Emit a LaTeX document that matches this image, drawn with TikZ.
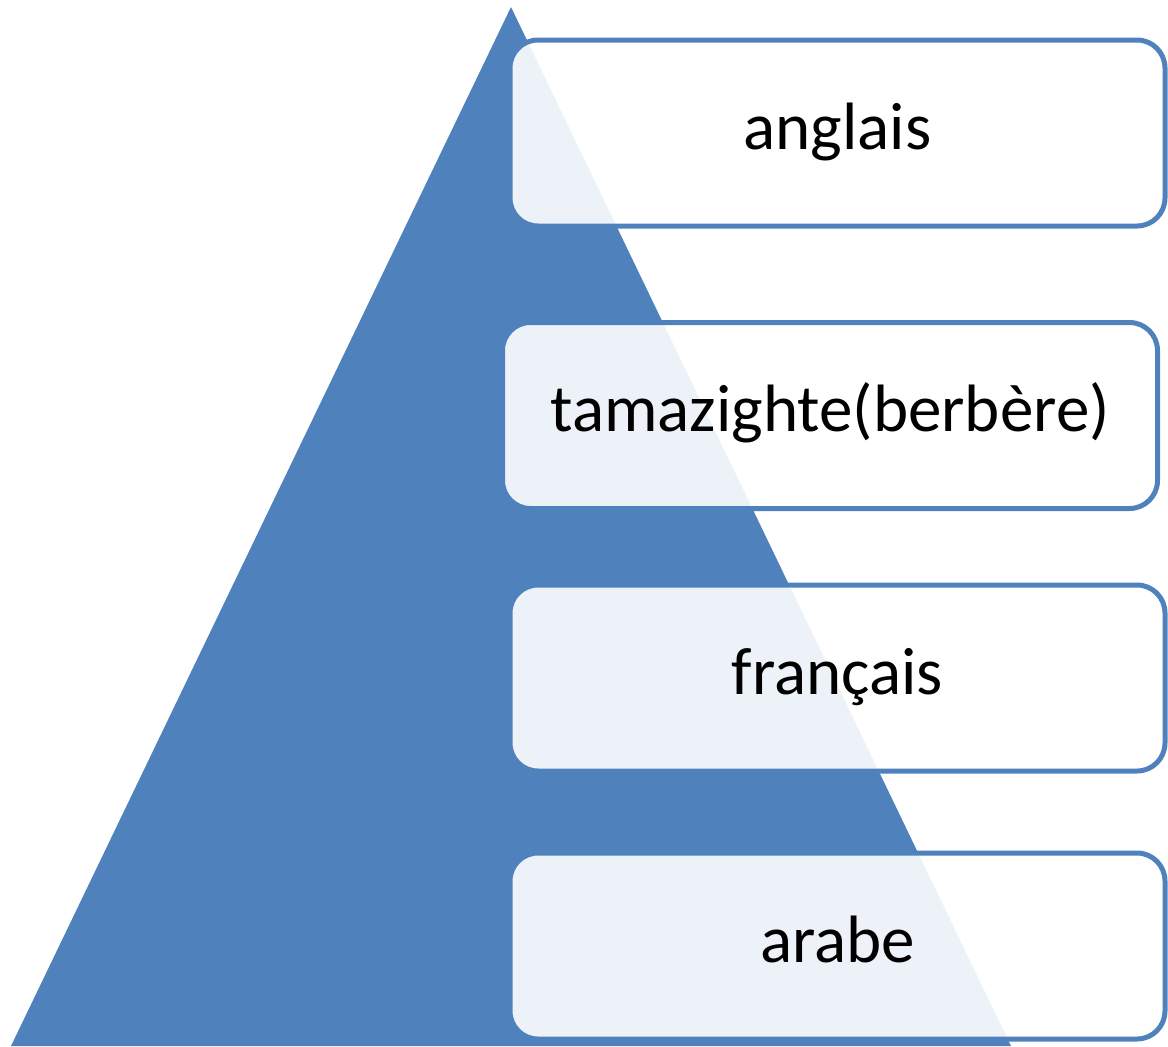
\documentclass[tikz,border=0pt]{standalone}
\usepackage{fontspec}
\setmainfont{Carlito}
\definecolor{accent}{HTML}{4F81BD}
\tikzset{
  lvlbox/.style={draw=accent, line width=2.5pt, rounded corners=14pt,
    fill=white, fill opacity=0.9, text opacity=1,
    minimum width=327.5pt, minimum height=93pt, inner sep=0pt,
    text height=20pt, text depth=4pt,
    font=\fontsize{33.5}{40}\selectfont, text=black}
}
\begin{document}
\begin{tikzpicture}[x=0.5pt,y=-0.5pt]
\useasboundingbox (0,0) rectangle (1168,1046);
\begin{scope}
\clip (0,0) rectangle (1168,1046);
\fill[accent] (511,7) -- (11,1046) -- (1011,1046) -- cycle;
\end{scope}
\node[lvlbox] (b1) at (837.5,133) {anglais};
\node[lvlbox] (b2) at (830,415.5) {tamazighte(berbère)};
\node[lvlbox] (b3) at (837.5,678) {français};
\node[lvlbox] (b4) at (837.5,946) {arabe};
\end{tikzpicture}
\end{document}
